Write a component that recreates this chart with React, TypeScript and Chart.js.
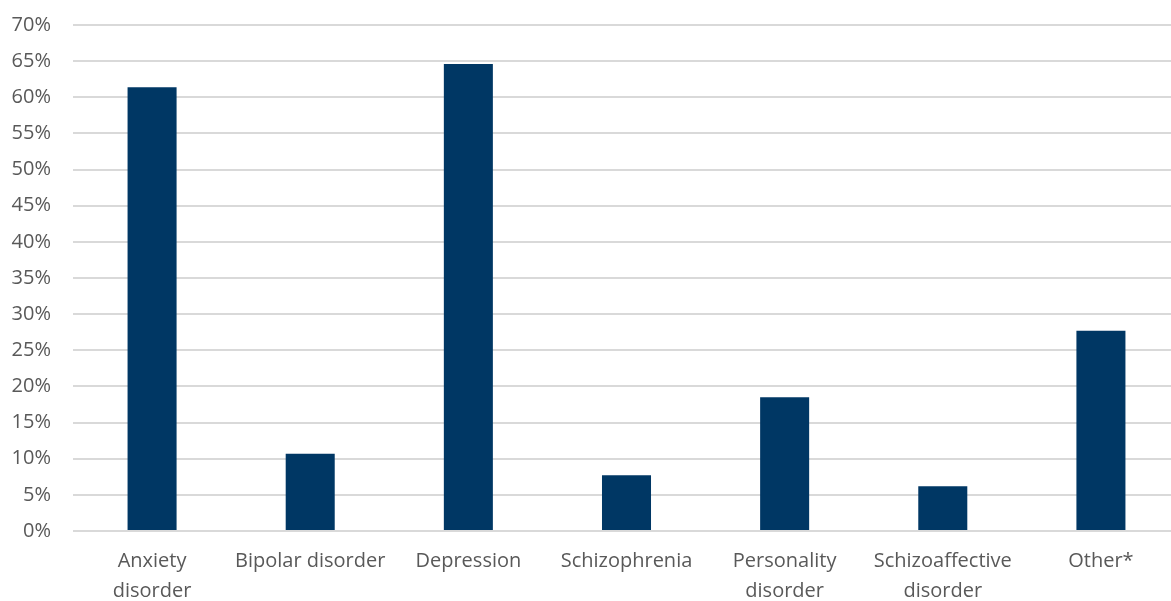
import React, { useEffect, useRef } from "react";
import { Chart, registerables } from "chart.js";

Chart.register(...registerables);

const categories: (string | string[])[] = [
  ["Anxiety", "disorder"],
  "Bipolar disorder",
  "Depression",
  "Schizophrenia",
  ["Personality", "disorder"],
  ["Schizoaffective", "disorder"],
  "Other*",
];
const values: number[] = [61.4, 10.7, 64.6, 7.7, 18.5, 6.2, 27.7];
const yMax = 70;
const yStep = 5;

export default function App() {
  const ref = useRef<HTMLCanvasElement | null>(null);
  useEffect(() => {
    document.body.style.margin = "0";
    if (!ref.current) return;
    const chart = new Chart(ref.current, {
      type: "bar",
      data: {
        labels: categories,
        datasets: [
          {
            data: values,
            backgroundColor: "#003764",
            barPercentage: 0.62,
            categoryPercentage: 0.5,
          },
        ],
      },
      options: {
        animation: false,
        responsive: false,
        devicePixelRatio: 1,
        layout: { padding: 0 },
        plugins: { legend: { display: false }, tooltip: { enabled: false } },
        scales: {
          x: {
            grid: { display: false, drawTicks: false },
            border: { display: false },
            ticks: {
              color: "#595959",
              font: { family: "Open Sans", size: 20, lineHeight: 1.5 },
              padding: 15,
              maxRotation: 0,
              autoSkip: false,
            },
            afterFit: (s: any) => {
              s.height = 70;
            },
          },
          y: {
            min: 0,
            max: yMax,
            grid: { color: "#d9d9d9", lineWidth: 2, drawTicks: false },
            border: { display: false },
            ticks: {
              stepSize: yStep,
              color: "#595959",
              font: { family: "Open Sans", size: 20 },
              padding: 22,
              callback: (v: any) => v + "%",
            },
            afterFit: (s: any) => {
              s.width = 73;
            },
          },
        },
      },
    });
    return () => chart.destroy();
  }, []);
  return (
    <div style={{ width: 1171, height: 601, overflow: "hidden", position: "relative" }}>
      <canvas
        ref={ref}
        width={1180}
        height={610}
        style={{ position: "absolute", left: 0, top: -9 }}
      />
    </div>
  );
}
